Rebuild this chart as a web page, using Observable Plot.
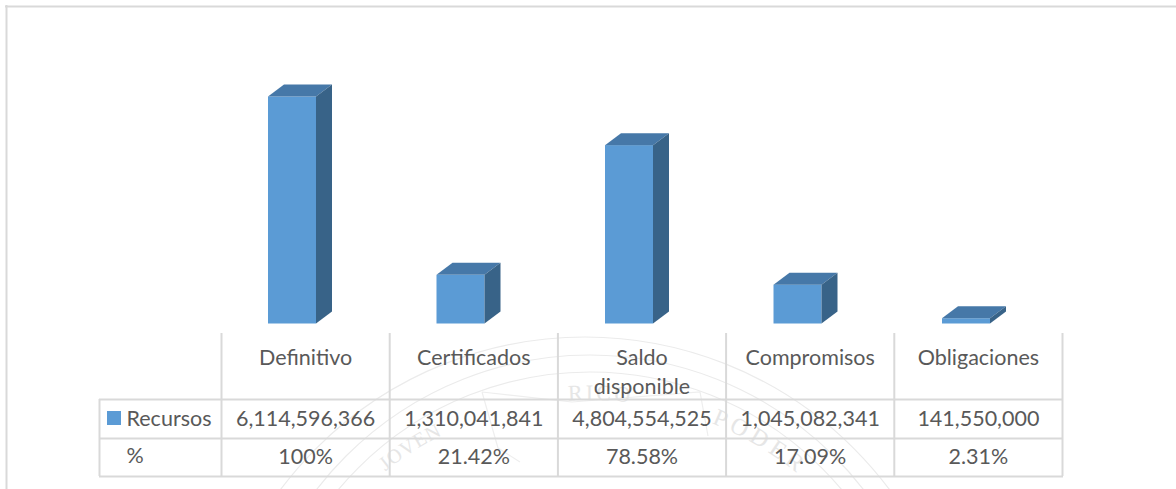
<!DOCTYPE html>
<html><head><meta charset="utf-8">
<style>html,body{margin:0;padding:0;background:#fff}svg{display:block}</style>
<script src="https://cdn.jsdelivr.net/npm/d3@7"></script>
<script src="https://cdn.jsdelivr.net/npm/@observablehq/plot@0.6"></script>
</head><body><script>
const categories = ["Definitivo","Certificados","Saldo\ndisponible","Compromisos","Obligaciones"];
const recursos = [6114596366,1310041841,4804554525,1045082341,141550000];
const percents = ["100%","21.42%","78.58%","17.09%","2.31%"];
const seriesName = "Recursos";
const percentName = "%";
const font = "Lato, Carlito, sans-serif";
const textColor = "#595959", gridColor = "#d9d9d9", barColor = "#5b9bd5";
const W = 1176, H = 489, fs = 21.5;
const maxV = recursos[0];

// helpers: table layout expressed in the chart's own scale units
const tx = px => (px - 221) / 168.2;
const ty = px => (323.5 - px) / 227 * maxV;

const data = categories.map((c,i)=>({c,i,v:recursos[i],p:percents[i],s:d3.format(",")(recursos[i])}));
const depth = {dx:16, dy:12};

function cube(index, scales, values, dims, ctx, next){
  const g = next(index, scales, values, dims, ctx);
  const sel = d3.select(g);
  sel.selectAll("rect").each(function(){
    const r = d3.select(this);
    const x1=+r.attr("x"), w=+r.attr("width"), y1=+r.attr("y"), h=+r.attr("height");
    const x2=x1+w, y2=y1+h, {dx,dy}=depth;
    sel.append("polygon").attr("points",[[x1,y1],[x1+dx,y1-dy],[x2+dx,y1-dy],[x2,y1]].join(" ")).attr("fill","#4678a8");
    sel.append("polygon").attr("points",[[x2,y1],[x2+dx,y1-dy],[x2+dx,y2-dy],[x2,y2]].join(" ")).attr("fill","#386388");
  });
  return g;
}

function watermark(){
  const g = d3.create("svg:g").attr("fill","none").attr("stroke","#ebebeb").attr("stroke-width",1.2);
  g.append("circle").attr("cx",585).attr("cy",717).attr("r",380);
  g.append("circle").attr("cx",590).attr("cy",700).attr("r",345);
  g.append("circle").attr("cx",590).attr("cy",700).attr("r",328);
  g.append("path").attr("d","M482,392 L572,402 L700,392 L708,436 M482,392 L498,448 L520,462").attr("stroke","#eeeeee");
  g.append("path").attr("id","wm").attr("d","M260,730 A330,330 0 0 1 920,730").attr("stroke","none");
  [["JOVEN","32%",20,1],["RICO","51%",22,3],["PODER","67%",24,5]].forEach(([s,o,size,ls])=>
    g.append("text").attr("fill","#e6e6e6").attr("stroke","none").attr("font-family","Liberation Serif, serif")
      .attr("font-size",size).attr("letter-spacing",ls)
      .append("textPath").attr("href","#wm").attr("startOffset",o).attr("text-anchor","middle").text(s));
  return g.node();
}

const chart = Plot.plot({
  width:W, height:H, margin:0,
  style:{fontFamily:font, background:"#fff"},
  x:{type:"linear", domain:[0,5], range:[221,1062], axis:null},
  y:{type:"linear", domain:[0,maxV], range:[323.5,96.5], axis:null},
  marks:[
    watermark,
    // outer frame (only top and left are visible)
    Plot.ruleY([ty(6)],{x1:tx(5),x2:tx(W),stroke:gridColor,strokeWidth:2}),
    Plot.ruleX([tx(6)],{y1:ty(5),y2:ty(H),stroke:gridColor,strokeWidth:2}),
    // 3-D columns
    Plot.rect(data,{x1:d=>d.i*1.0018+0.2794,x2:d=>d.i*1.0018+0.5648,y1:()=>0,y2:"v",fill:barColor,render:cube}),
    // table grid
    Plot.ruleY([ty(399),ty(438),ty(476)],{x1:tx(99),x2:tx(1063),stroke:gridColor,strokeWidth:2}),
    Plot.ruleX([0,1,2,3,4,5],{y1:ty(333),y2:ty(476),stroke:gridColor,strokeWidth:2}),
    Plot.ruleX([tx(99)],{y1:ty(399),y2:ty(476),stroke:gridColor,strokeWidth:2}),
    // legend key and row names
    Plot.rect([seriesName],{x1:tx(107),x2:tx(121),y1:ty(425),y2:ty(411),fill:barColor}),
    Plot.text([seriesName],{x:tx(126),y:ty(418.5),text:d=>d,textAnchor:"start",fill:textColor,fontSize:fs,fontFamily:font}),
    Plot.text([percentName],{x:tx(126),y:ty(456),text:d=>d,textAnchor:"start",fill:textColor,fontSize:fs,fontFamily:font}),
    // table body
    Plot.text(data,{x:d=>d.i+0.5,y:ty(343.5),text:"c",lineAnchor:"top",lineHeight:1.35,fill:textColor,fontSize:fs,fontFamily:font}),
    Plot.text(data,{x:d=>d.i+0.5,y:ty(418.5),text:"s",fill:textColor,fontSize:fs,fontFamily:font}),
    Plot.text(data,{x:d=>d.i+0.5,y:ty(456.5),text:"p",fill:textColor,fontSize:fs,fontFamily:font})
  ]
});
document.body.append(chart);
</script></body></html>
